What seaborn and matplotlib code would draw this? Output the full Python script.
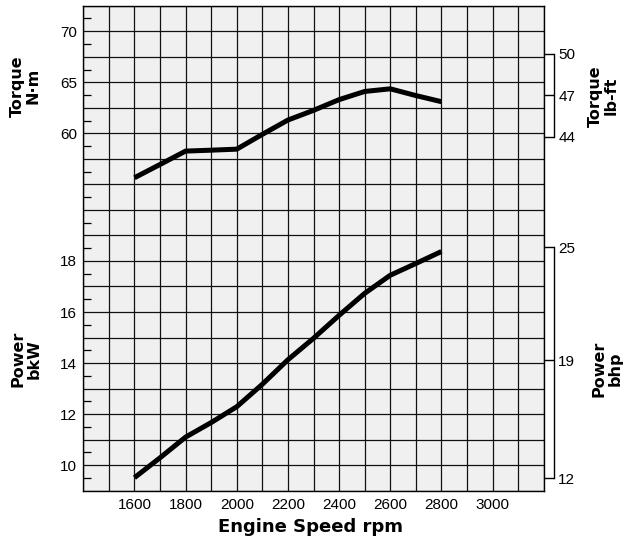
import numpy as np
import matplotlib
matplotlib.use("Agg")
import matplotlib.pyplot as plt
import seaborn as sns

# ---------------- data ----------------
rpm = [1600, 1700, 1800, 1900, 2000, 2100, 2200, 2300, 2400, 2500, 2600, 2700, 2800]
torque_nm = [55.65, 56.95, 58.26, 58.35, 58.45, 59.9, 61.3, 62.25, 63.3, 64.1, 64.36, 63.7, 63.1]
power_kw = [9.51, 10.29, 11.1, 11.67, 12.29, 13.17, 14.13, 14.97, 15.87, 16.73, 17.44, 17.9, 18.37]

rpm_tick_labels = [1600, 1800, 2000, 2200, 2400, 2600, 2800, 3000]
torque_nm_ticks = [60, 65, 70]
power_kw_ticks = [10, 12, 14, 16, 18]
torque_lbft_ticks = [44, 47, 50]
NM_PER_LBFT = 1.3558
power_bhp_ticks = [12, 19, 25]
power_bhp_pos_kw = [9.49, 14.11, 18.53]   # where the bhp ticks sit on the bkW scale

# ---------------- style ----------------
sns.set_theme(style="white")
plt.rcParams["font.family"] = ["Liberation Sans", "DejaVu Sans"]
plt.rcParams["text.color"] = "black"
plt.rcParams["xtick.color"] = "black"
plt.rcParams["ytick.color"] = "black"
plt.rcParams["xtick.labelcolor"] = "black"
plt.rcParams["ytick.labelcolor"] = "black"

TICK_FS = 11

W, H = 626, 541
fig = plt.figure(figsize=(W / 100, H / 100), dpi=100)
left, right, top, bottom = 83.3, 543.7, 5.7, 490.7
ax = fig.add_axes([left / W, 1 - bottom / H, (right - left) / W, (bottom - top) / H])

ax.set_facecolor("#f0f0f0")
ax.set_xlim(1400, 3200)
ax.set_ylim(9, 28)

ax.set_xticks(rpm_tick_labels)
ax.set_xticklabels([str(v) for v in rpm_tick_labels], fontsize=TICK_FS)
ax.set_xticks(np.arange(1400, 3201, 100), minor=True)

ax.set_yticks(np.arange(9, 29, 1))
ax.set_yticklabels([str(v) if v in power_kw_ticks else "" for v in range(9, 29)], fontsize=TICK_FS)
ax.set_yticks(np.arange(9.5, 28, 1), minor=True)

ax.xaxis.grid(True, which="both", color="#111111", linewidth=0.9)
ax.yaxis.grid(True, which="major", color="#111111", linewidth=0.9)
ax.set_axisbelow(True)
ax.tick_params(axis="x", which="both", length=0, pad=5, colors="black")
ax.tick_params(axis="y", which="major", length=0, pad=4.5, colors="black")
ax.tick_params(axis="y", which="minor", direction="in", length=5.5, width=0.9,
               left=True, right=False, color="black")
for s in ax.spines.values():
    s.set_color("black")
    s.set_linewidth(1.0)

# torque axis (same pixels, N·m scale, ticks on the left)
ax_t = ax.twinx()
ax_t.set_ylim(25, 72.5)
ax_t.yaxis.tick_left()
ax_t.set_yticks(torque_nm_ticks)
ax_t.set_yticklabels([str(v) for v in torque_nm_ticks], fontsize=TICK_FS)
ax_t.tick_params(axis="y", length=0, pad=4.5, colors="black")
for s in ax_t.spines.values():
    s.set_visible(False)

sns.lineplot(x=rpm, y=power_kw, ax=ax, color="black", linewidth=3.6,
             solid_capstyle="butt")
sns.lineplot(x=rpm, y=torque_nm, ax=ax_t, color="black", linewidth=3.6,
             solid_capstyle="butt")
ax.set_xlabel("")
ax.set_ylabel("")
ax_t.set_ylabel("")

# right bracket: torque lb-ft
ax_r1 = ax.twinx()
ax_r1.set_ylim(25, 72.5)
for s in ["left", "top", "bottom"]:
    ax_r1.spines[s].set_visible(False)
ax_r1.spines["right"].set_position(("outward", 7.5))
ax_r1.spines["right"].set_bounds(torque_lbft_ticks[0] * NM_PER_LBFT,
                                 torque_lbft_ticks[-1] * NM_PER_LBFT)
ax_r1.spines["right"].set_color("black")
ax_r1.spines["right"].set_linewidth(1.0)
ax_r1.set_yticks([v * NM_PER_LBFT for v in torque_lbft_ticks])
ax_r1.set_yticklabels([str(v) for v in torque_lbft_ticks], fontsize=TICK_FS)
ax_r1.tick_params(axis="y", direction="in", length=7.5, width=1.0, pad=3,
                  colors="black")

# right bracket: power bhp
ax_r2 = ax.twinx()
ax_r2.set_ylim(9, 28)
for s in ["left", "top", "bottom"]:
    ax_r2.spines[s].set_visible(False)
ax_r2.spines["right"].set_position(("outward", 7.5))
ax_r2.spines["right"].set_bounds(power_bhp_pos_kw[0], power_bhp_pos_kw[-1])
ax_r2.spines["right"].set_color("black")
ax_r2.spines["right"].set_linewidth(1.0)
ax_r2.set_yticks(power_bhp_pos_kw)
ax_r2.set_yticklabels([str(v) for v in power_bhp_ticks], fontsize=TICK_FS)
ax_r2.tick_params(axis="y", direction="in", length=7.5, width=1.0, pad=3,
                  colors="black")

# axis titles
lab = dict(rotation=90, ha="center", va="center", fontsize=11.5, fontweight="bold",
           family="DejaVu Sans", linespacing=1.05, multialignment="center",
           color="black")
fig.text(25.5 / W, 1 - 86 / H, "Torque\nN·m", **lab)
fig.text(26 / W, 1 - 359 / H, "Power\nbkW", **lab)
fig.text(603 / W, 1 - 96 / H, "Torque\nlb-ft", **lab)
fig.text(607 / W, 1 - 369 / H, "Power\nbhp", **lab)
fig.text(311 / W, 1 - 531.5 / H, "Engine Speed rpm", ha="center", va="baseline",
         fontsize=13, fontweight="bold", family="DejaVu Sans", color="black")

fig.savefig("out.png", dpi=100, facecolor="white")
